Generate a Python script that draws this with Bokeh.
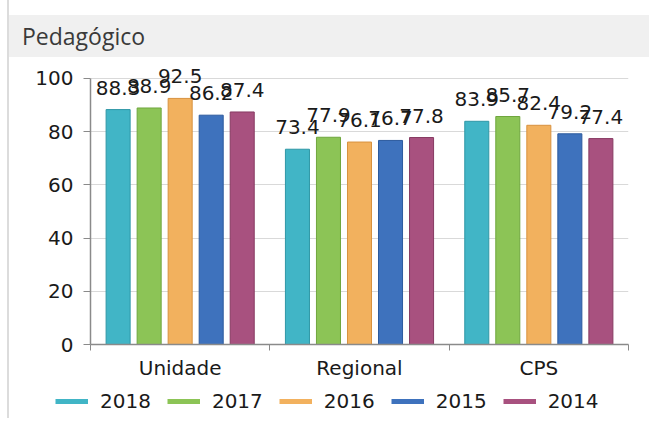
import numpy as np
from bokeh.plotting import figure
from bokeh.models import (ColumnDataSource, FixedTicker, LabelSet, Range1d, Div,
                          Legend, LegendItem)
from bokeh.layouts import column, row
from bokeh.transform import dodge
from bokeh.core.properties import value
from bokeh.embed import file_html
from bokeh.resources import INLINE

title_text = "Pedagógico"
categories = ["Unidade", "Regional", "CPS"]
years = ["2018", "2017", "2016", "2015", "2014"]
v2018 = [88.3, 73.4, 83.9]
v2017 = [88.9, 77.9, 85.7]
v2016 = [92.5, 76.1, 82.4]
v2015 = [86.2, 76.7, 79.2]
v2014 = [87.4, 77.8, 77.4]
y_ticks = [0, 20, 40, 60, 80, 100]

series = [v2018, v2017, v2016, v2015, v2014]
colors = ["#41b5c6", "#8cc456", "#f2b15e", "#3e72bd", "#a8517f"]
edges = ["#2f97a6", "#6fa63e", "#d8923f", "#2c5a9e", "#873a62"]

centers = list(np.arange(len(categories)) + 0.5)
data = {"x": centers}
for yr, vals in zip(years, series):
    data["y" + yr] = vals
    data["t" + yr] = [f"{v:.1f}" for v in vals]
src = ColumnDataSource(data)

FONT = "DejaVu Sans"

p = figure(width=640, height=331, output_backend="svg", toolbar_location=None,
           x_range=Range1d(0, len(categories)), y_range=Range1d(0, 106),
           min_border_left=81, min_border_right=21, min_border_top=5,
           min_border_bottom=44, outline_line_color=None)
p.background_fill_color = "white"
p.border_fill_color = "white"

bw = 0.134
step = 0.173
for i, yr in enumerate(years):
    off = (i - 2) * step
    p.vbar(x=dodge("x", off, range=p.x_range), top="y" + yr, width=bw, bottom=0,
           source=src, fill_color=colors[i], line_color=edges[i], line_width=1)
    lbl = LabelSet(x=dodge("x", off, range=p.x_range), y="y" + yr, text="t" + yr,
                   source=src, text_align="center", text_baseline="bottom",
                   y_offset=15, text_font=value(FONT), text_font_size="20px",
                   text_color="#1a1a1a")
    p.add_layout(lbl)

# axes
p.xaxis.ticker = FixedTicker(ticks=centers, minor_ticks=list(range(len(categories) + 1)))
p.xaxis.major_label_overrides = {c: cat for c, cat in zip(centers, categories)}
p.xaxis.major_tick_out = 0
p.xaxis.major_tick_in = 0
p.xaxis.minor_tick_out = 6
p.xaxis.minor_tick_in = 0
p.xaxis.minor_tick_line_color = "#8a8a8a"
p.xaxis.axis_line_color = "#8a8a8a"
p.xaxis.axis_line_width = 1.5
p.xaxis.major_label_standoff = 5
p.xaxis.major_label_text_font = FONT
p.xaxis.major_label_text_font_size = "20px"
p.xaxis.major_label_text_color = "#1a1a1a"

p.yaxis.ticker = FixedTicker(ticks=y_ticks)
p.yaxis.bounds = (0, 100)
p.yaxis.major_tick_out = 7
p.yaxis.major_tick_in = 0
p.yaxis.minor_tick_line_color = None
p.yaxis.major_tick_line_color = "#8a8a8a"
p.yaxis.axis_line_color = "#8a8a8a"
p.yaxis.axis_line_width = 1.5
p.yaxis.major_label_standoff = 10
p.yaxis.major_label_text_font = FONT
p.yaxis.major_label_text_font_size = "20px"
p.yaxis.major_label_text_color = "#1a1a1a"

p.xgrid.grid_line_color = None
p.ygrid.grid_line_color = "#d9d9d9"
p.ygrid.ticker = FixedTicker(ticks=y_ticks)

# legend in its own strip with line swatches (series lines kept off-screen)
lg = figure(width=640, height=30, output_backend="svg", toolbar_location=None,
            x_axis_type=None, y_axis_type=None, min_border=0,
            outline_line_color=None, x_range=Range1d(0, 1), y_range=Range1d(-2, -1))
lg.grid.grid_line_color = None
items = []
for i, yr in enumerate(years):
    r = lg.line(x="x", y="y" + yr, source=src, line_color=colors[i], line_width=5)
    items.append(LegendItem(label=yr, renderers=[r]))
legend = Legend(items=items, orientation="horizontal", location=(46, 5),
                glyph_width=33, glyph_height=20, label_standoff=12, spacing=16,
                padding=0, margin=0, border_line_color=None,
                background_fill_alpha=0, label_text_font=FONT,
                label_text_font_size="20px", label_text_color="#1a1a1a",
                label_height=20)
lg.add_layout(legend, "center")

header = Div(text=title_text, width=640, height=42, margin=(15, 0, 0, 0),
             styles={"background-color": "#f0f0f0", "font-family": "Open Sans",
                     "font-size": "23px", "color": "#3a3a3a",
                     "line-height": "42px", "padding-left": "13px",
                     "box-sizing": "border-box", "width": "640px"})

root = column(header, p, row(lg, margin=0), spacing=0, margin=(0, 0, 0, 7),
              styles={"border-left": "2px solid #dcdcdc"})

open("out.html", "w").write(file_html(root, INLINE))
